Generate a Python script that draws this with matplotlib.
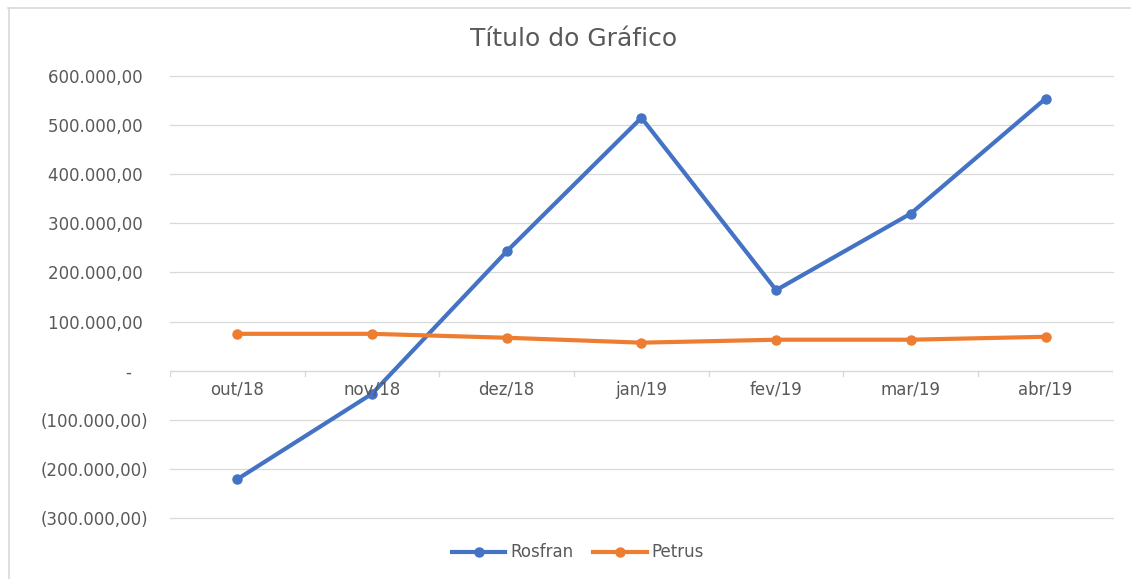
import matplotlib
matplotlib.use('Agg')
import matplotlib.pyplot as plt
from matplotlib.lines import Line2D

plt.rcParams['font.family'] = ['DejaVu Sans']

GRAY = '#595959'
GRID = '#d9d9d9'

months = ['out/18', 'nov/18', 'dez/18', 'jan/19', 'fev/19', 'mar/19', 'abr/19']
rosfran = [-221000, -47000, 243000, 515000, 164000, 320000, 554000]
petrus = [75000, 75000, 67000, 57000, 63000, 63000, 69000]
y_ticks = [-300000, -200000, -100000, 0, 100000, 200000, 300000, 400000, 500000, 600000]


def fmt_acc(v):
    # formato contabil do Excel (pt-BR)
    if v == 0:
        return '-   '
    s = f'{abs(v):,.2f}'.replace(',', 'X').replace('.', ',').replace('X', '.')
    return f'({s})' if v < 0 else s + ' '


fig = plt.figure(figsize=(11.31, 5.79), dpi=100)
ax = fig.add_axes([0.1503, 0.1054, 0.984 - 0.1503, 0.8687 - 0.1054])

x = list(range(len(months)))
ax.plot(x, rosfran, color='#4472C4', lw=3, marker='o', ms=6.5, label='Rosfran',
        solid_capstyle='round')
ax.plot(x, petrus, color='#ED7D31', lw=3, marker='o', ms=6.5, label='Petrus',
        solid_capstyle='round')

ax.set_xlim(-0.5, len(months) - 0.5)
ax.set_ylim(-300000, 600000)

ax.set_yticks(y_ticks)
ax.set_yticklabels([fmt_acc(v) for v in y_ticks])
ax.tick_params(axis='y', length=0, pad=16, labelsize=12, labelcolor=GRAY)
for v in y_ticks:
    if v != 0:
        ax.axhline(v, color=GRID, lw=0.9, zorder=0, clip_on=False)

# eixo das categorias cruza em zero
ax.axhline(0, color=GRID, lw=1.0, zorder=0)
ax.set_xticks([])
for i in range(len(months) + 1):
    ax.plot([i - 0.5, i - 0.5], [0, -10000], color=GRID, lw=1.0, zorder=0)
for i, m in enumerate(months):
    ax.text(i, -38500, m, ha='center', va='center', fontsize=12, color=GRAY)

for s in ax.spines.values():
    s.set_visible(False)

fig.text(0.507, 0.9206, 'Título do Gráfico', ha='center', va='baseline',
         fontsize=18, color=GRAY)

handles = [Line2D([], [], color='#4472C4', lw=3, marker='o', ms=6.5),
           Line2D([], [], color='#ED7D31', lw=3, marker='o', ms=6.5)]
fig.legend(handles, ['Rosfran', 'Petrus'], loc='center', bbox_to_anchor=(0.511, 0.046),
           ncol=2, frameon=False, fontsize=12, labelcolor=GRAY,
           handlelength=3.2, handletextpad=0.3, columnspacing=1.2)

# moldura do grafico (so topo e esquerda aparecem)
fig.add_artist(Line2D([8 / 1131, 1], [1 - 8 / 579, 1 - 8 / 579], color=GRID, lw=1.2))
fig.add_artist(Line2D([8.5 / 1131, 8.5 / 1131], [0, 1 - 8 / 579], color=GRID, lw=1.2))

fig.savefig('out.png', dpi=100)
